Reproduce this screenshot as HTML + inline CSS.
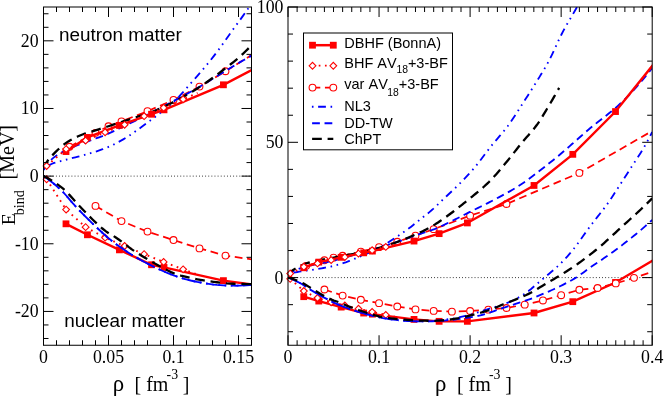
<!DOCTYPE html>
<html><head><meta charset="utf-8"><title>EOS</title><style>html,body{margin:0;padding:0;background:#fff}svg{display:block;will-change:transform}text{white-space:pre;font-kerning:none}</style></head><body>
<svg width="664" height="396" viewBox="0 0 664 396">
<rect width="664" height="396" fill="#fff"/>
<defs><clipPath id="cl"><rect x="43.5" y="7" width="208" height="338.25"/></clipPath><clipPath id="cr"><rect x="288" y="7" width="364.2" height="338.25"/></clipPath></defs>
<path d="M43.5 176.12H251.5" stroke="#000" stroke-width="0.9" stroke-dasharray="0.85 2.26" fill="none"/>
<path d="M288 277.6H652.2" stroke="#000" stroke-width="0.9" stroke-dasharray="0.85 2.26" fill="none"/>
<g>
<path clip-path="url(#cl)" d="M65.99 223.82L87.44 234.78L119.42 249.86L151.53 264.75L164.01 267.45L223.42 280.64L259.3 285.45L299.6 285.45" fill="none" stroke="#ff0000" stroke-width="2.4" />
<rect x="62.59" y="220.42" width="6.8" height="6.8" fill="#ff0000"/>
<rect x="84.04" y="231.38" width="6.8" height="6.8" fill="#ff0000"/>
<rect x="116.02" y="246.46" width="6.8" height="6.8" fill="#ff0000"/>
<rect x="148.13" y="261.35" width="6.8" height="6.8" fill="#ff0000"/>
<rect x="160.61" y="264.05" width="6.8" height="6.8" fill="#ff0000"/>
<rect x="220.02" y="277.24" width="6.8" height="6.8" fill="#ff0000"/>
<path clip-path="url(#cl)" d="M46.62 179.3L66.12 209.61L85.62 227.13L105.12 237.69L124.62 246.01L144.12 254.13L163.62 261.91L183.12 269.35L197.55 274.56" fill="none" stroke="#ff0000" stroke-width="1.9" stroke-dasharray="1.7 4.52" />
<path d="M43.22 179.3L46.62 175.9L50.02 179.3L46.62 182.7z" fill="#fff" stroke="#ff0000" stroke-width="1.1"/>
<path d="M62.72 209.61L66.12 206.21L69.52 209.61L66.12 213.01z" fill="#fff" stroke="#ff0000" stroke-width="1.1"/>
<path d="M82.22 227.13L85.62 223.73L89.02 227.13L85.62 230.53z" fill="#fff" stroke="#ff0000" stroke-width="1.1"/>
<path d="M101.72 237.69L105.12 234.29L108.52 237.69L105.12 241.09z" fill="#fff" stroke="#ff0000" stroke-width="1.1"/>
<path d="M121.22 246.01L124.62 242.61L128.02 246.01L124.62 249.41z" fill="#fff" stroke="#ff0000" stroke-width="1.1"/>
<path d="M140.72 254.13L144.12 250.73L147.52 254.13L144.12 257.53z" fill="#fff" stroke="#ff0000" stroke-width="1.1"/>
<path d="M160.22 261.91L163.62 258.51L167.02 261.91L163.62 265.31z" fill="#fff" stroke="#ff0000" stroke-width="1.1"/>
<path d="M179.72 269.35L183.12 265.95L186.52 269.35L183.12 272.75z" fill="#fff" stroke="#ff0000" stroke-width="1.1"/>
<path clip-path="url(#cl)" d="M95.5 205.89L121.5 221.11L147.5 231.6L173.5 240.05L199.5 248.38L225.5 255.61L251.5 259.33L277.5 261.3" fill="none" stroke="#ff0000" stroke-width="1.75" stroke-dasharray="7.77 4.66" />
<circle cx="95.5" cy="205.89" r="3.4" fill="#fff" stroke="#ff0000" stroke-width="1.1"/>
<circle cx="121.5" cy="221.11" r="3.4" fill="#fff" stroke="#ff0000" stroke-width="1.1"/>
<circle cx="147.5" cy="231.6" r="3.4" fill="#fff" stroke="#ff0000" stroke-width="1.1"/>
<circle cx="173.5" cy="240.05" r="3.4" fill="#fff" stroke="#ff0000" stroke-width="1.1"/>
<circle cx="199.5" cy="248.38" r="3.4" fill="#fff" stroke="#ff0000" stroke-width="1.1"/>
<circle cx="225.5" cy="255.61" r="3.4" fill="#fff" stroke="#ff0000" stroke-width="1.1"/>
<path clip-path="url(#cl)" d="M43.5 176.12L46.77 178.27L50.04 180.66L53.31 183.26L56.58 186.06L59.85 189.02L63.12 192.15L66.39 195.74L69.66 199.62L72.93 203.48L76.2 207.08L79.47 210.51L82.75 213.86L86.02 217.14L89.29 220.37L92.56 223.55L95.83 226.69L99.1 229.77L102.37 232.78L105.64 235.74L108.91 238.59L112.18 241.18L115.45 243.67L118.72 246.06L121.99 248.35L125.26 250.57L128.53 252.7L131.8 254.75L135.07 256.75L138.34 258.67L141.61 260.51L144.88 262.27L148.15 263.93L151.42 265.55L154.69 267.15L157.97 268.72L161.24 270.25L164.51 271.72L167.78 273.13L171.05 274.46L174.32 275.69L177.59 276.82L180.86 277.84L184.13 278.79L187.4 279.67L190.67 280.49L193.94 281.23L197.21 281.91L200.48 282.51L203.75 283.09L207.02 283.65L210.29 284.15L213.56 284.58L216.83 284.91L220.1 285.13L223.37 285.32L226.64 285.48L229.92 285.61L233.19 285.7L236.46 285.72L239.73 285.6L243 285.34L246.27 284.99L249.54 284.6L252.81 284.2L256.08 283.73L259.35 283.18L262.62 282.55L265.89 281.85" fill="none" stroke="#0000ff" stroke-width="1.85" stroke-dasharray="1.6 4.62 7.77 4.66 1.6 4.62" />
<path clip-path="url(#cl)" d="M43.5 176.12L46.77 178.27L50.04 180.66L53.31 183.26L56.58 186.06L59.85 189.02L63.12 192.15L66.39 195.74L69.66 199.62L72.93 203.48L76.2 207.08L79.47 210.51L82.75 213.86L86.02 217.14L89.29 220.37L92.56 223.55L95.83 226.69L99.1 229.77L102.37 232.78L105.64 235.74L108.91 238.59L112.18 241.18L115.45 243.67L118.72 246.06L121.99 248.35L125.26 250.57L128.53 252.7L131.8 254.75L135.07 256.75L138.34 258.67L141.61 260.51L144.88 262.27L148.15 263.93L151.42 265.55L154.69 267.15L157.97 268.72L161.24 270.25L164.51 271.72L167.78 273.13L171.05 274.46L174.32 275.69L177.59 276.82L180.86 277.84L184.13 278.79L187.4 279.67L190.67 280.49L193.94 281.23L197.21 281.91L200.48 282.51L203.75 283.09L207.02 283.65L210.29 284.15L213.56 284.58L216.83 284.91L220.1 285.13L223.37 285.32L226.64 285.48L229.92 285.61L233.19 285.7L236.46 285.72L239.73 285.66L243 285.54L246.27 285.36L249.54 285.16L252.81 284.95L256.08 284.68L259.35 284.35L262.62 283.96L265.89 283.51" fill="none" stroke="#0000ff" stroke-width="1.85" stroke-dasharray="7.77 4.66" />
<path clip-path="url(#cl)" d="M43.5 176.12L46.77 177.66L50.04 179.45L53.31 181.48L56.58 183.7L59.85 186.1L63.12 188.68L66.39 191.71L69.66 195.11L72.93 198.75L76.2 202.46L79.47 206.09L82.75 209.51L86.02 212.89L89.29 216.24L92.56 219.48L95.83 222.58L99.1 225.61L102.37 228.52L105.64 231.14L108.91 233.32L112.18 235.18L115.45 237.19L118.72 239.48L121.99 241.94L125.26 244.45L128.53 246.95L131.8 249.33L135.07 251.54L138.34 253.68L141.61 255.73L144.88 257.69L148.15 259.57L151.42 261.46L154.69 263.37L157.97 265.27L161.24 267.12L164.51 268.89L167.78 270.55L171.05 272.08L174.32 273.45L177.59 274.62L180.86 275.58L184.13 276.44L187.4 277.23L190.67 277.97L193.94 278.65L197.21 279.27L200.48 279.85L203.75 280.39L207.02 280.89L210.29 281.36L213.56 281.8L216.83 282.24L220.1 282.66L223.37 283.04L226.64 283.36L229.92 283.59L233.19 283.73L236.46 283.83L239.73 283.93L243 284L246.27 284.06L249.54 284.09L252.81 284.08L256.08 283.94L259.35 283.65L262.62 283.23L265.89 282.7" fill="none" stroke="#000000" stroke-width="2.3" stroke-dasharray="9.7 5.8" />
<path clip-path="url(#cl)" d="M69.5 146.76L95.5 132.83L108.5 126.27L121.5 121.46L147.5 111.18L173.5 99.95L199.5 86.62L225.5 71.27L251.5 55.03L303.5 21.21" fill="none" stroke="#ff0000" stroke-width="1.75" stroke-dasharray="7.77 4.66" />
<circle cx="69.5" cy="146.76" r="3.4" fill="#fff" stroke="#ff0000" stroke-width="1.1"/>
<circle cx="95.5" cy="132.83" r="3.4" fill="#fff" stroke="#ff0000" stroke-width="1.1"/>
<circle cx="108.5" cy="126.27" r="3.4" fill="#fff" stroke="#ff0000" stroke-width="1.1"/>
<circle cx="121.5" cy="121.46" r="3.4" fill="#fff" stroke="#ff0000" stroke-width="1.1"/>
<circle cx="147.5" cy="111.18" r="3.4" fill="#fff" stroke="#ff0000" stroke-width="1.1"/>
<circle cx="173.5" cy="99.95" r="3.4" fill="#fff" stroke="#ff0000" stroke-width="1.1"/>
<circle cx="199.5" cy="86.62" r="3.4" fill="#fff" stroke="#ff0000" stroke-width="1.1"/>
<circle cx="225.5" cy="71.27" r="3.4" fill="#fff" stroke="#ff0000" stroke-width="1.1"/>
<path clip-path="url(#cl)" d="M43.5 169.7L46.16 167.39L48.81 165.39L51.47 163.98L54.13 162.96L56.79 162.11L59.44 161.38L62.1 160.72L64.76 160.05L67.42 159.34L70.07 158.64L72.73 157.96L75.39 157.3L78.04 156.63L80.7 155.95L83.36 155.23L86.02 154.49L88.67 153.73L91.33 152.96L93.99 152.15L96.64 151.3L99.3 150.41L101.96 149.47L104.62 148.47L107.27 147.41L109.93 146.27L112.59 145.05L115.25 143.75L117.9 142.37L120.56 140.92L123.22 139.41L125.87 137.84L128.53 136.18L131.19 134.4L133.85 132.52L136.5 130.6L139.16 128.68L141.82 126.78L144.47 124.85L147.13 122.88L149.79 120.87L152.45 118.88L155.1 116.89L157.76 114.89L160.42 112.87L163.08 110.8L165.73 108.67L168.39 106.48L171.05 104.19L173.7 101.81L176.36 99.28L179.02 96.57L181.68 93.7L184.33 90.72L186.99 87.67L189.65 84.61L192.31 81.57L194.96 78.56L197.62 75.53L200.28 72.48L202.93 69.38L205.59 66.23L208.25 63.01L210.91 59.72L213.56 56.37L216.22 52.93L218.88 49.39L221.53 45.75L224.19 42.01L226.85 38.23L229.51 34.44L232.16 30.68L234.82 27L237.48 23.38L240.14 19.78L242.79 16.14L245.45 12.41L248.11 8.53L250.76 4.45L253.42 0.15L256.08 -4.29L258.74 -8.82L261.39 -13.36L264.05 -17.86L266.71 -22.27" fill="none" stroke="#0000ff" stroke-width="1.85" stroke-dasharray="1.6 4.62 7.77 4.66 1.6 4.62" />
<path clip-path="url(#cl)" d="M43.5 169.7L46.77 164.78L50.04 160.75L53.31 157.85L56.58 155.49L59.85 153.48L63.12 151.66L66.39 150L69.66 148.49L72.93 147.08L76.2 145.72L79.47 144.42L82.75 143.2L86.02 142.02L89.29 140.85L92.56 139.66L95.83 138.48L99.1 137.31L102.37 136.08L105.64 134.74L108.91 133.32L112.18 131.83L115.45 130.29L118.72 128.74L121.99 127.18L125.26 125.62L128.53 124.04L131.8 122.43L135.07 120.82L138.34 119.18L141.61 117.54L144.88 115.89L148.15 114.23L151.42 112.57L154.69 110.89L157.97 109.2L161.24 107.5L164.51 105.79L167.78 104.07L171.05 102.34L174.32 100.6L177.59 98.86L180.86 97.11L184.13 95.35L187.4 93.59L190.67 91.8L193.94 89.98L197.21 88.14L200.48 86.26L203.75 84.32L207.02 82.35L210.29 80.33L213.56 78.3L216.83 76.26L220.1 74.23L223.37 72.22L226.64 70.24L229.92 68.26L233.19 66.29L236.46 64.32L239.73 62.38L243 60.47L246.27 58.64L249.54 56.88L252.81 54.85L256.08 52.54L259.35 50.02L262.62 47.36L265.89 44.59" fill="none" stroke="#0000ff" stroke-width="1.85" stroke-dasharray="7.77 4.66" />
<path clip-path="url(#cl)" d="M43.5 168.01L45.93 163.28L48.37 159.78L50.8 156.9L53.24 154.35L55.67 151.92L58.11 149.55L60.54 147.29L62.98 145.2L65.41 143.34L67.85 141.73L70.28 140.28L72.72 138.93L75.15 137.68L77.59 136.54L80.02 135.47L82.46 134.49L84.89 133.59L87.33 132.78L89.76 132.02L92.2 131.3L94.63 130.57L97.07 129.82L99.5 129.05L101.94 128.29L104.37 127.52L106.81 126.76L109.24 125.98L111.68 125.19L114.11 124.39L116.55 123.6L118.98 122.79L121.41 121.99L123.85 121.19L126.28 120.38L128.72 119.59L131.15 118.8L133.59 118.02L136.02 117.24L138.46 116.46L140.89 115.68L143.33 114.89L145.76 114.11L148.2 113.32L150.63 112.48L153.07 111.55L155.5 110.57L157.94 109.53L160.37 108.45L162.81 107.32L165.24 106.16L167.68 104.98L170.11 103.76L172.55 102.53L174.98 101.29L177.42 100.01L179.85 98.7L182.29 97.36L184.72 95.99L187.16 94.59L189.59 93.16L192.03 91.7L194.46 90.21L196.9 88.69L199.33 87.14L201.76 85.55L204.2 83.92L206.63 82.24L209.07 80.53L211.5 78.78L213.94 77L216.37 75.19L218.81 73.36L221.24 71.51L223.68 69.64L226.11 67.76L228.55 65.88L230.98 63.98L233.42 62.06L235.85 60.09L238.29 58.05L240.72 55.89L243.16 53.64L245.59 51.29L248.03 48.85L250.46 46.32L252.9 43.72L255.33 41.02L257.77 38.25L260.2 35.39L262.64 32.48L265.07 29.51" fill="none" stroke="#000000" stroke-width="2.3" stroke-dasharray="9.7 5.8" />
<path clip-path="url(#cl)" d="M65.99 151.57L87.44 137.43L119.42 125.39L151.53 114.23L164.01 109.83L223.42 84.8L259.3 66.19L299.6 39.47" fill="none" stroke="#ff0000" stroke-width="2.4" />
<rect x="62.59" y="148.17" width="6.8" height="6.8" fill="#ff0000"/>
<rect x="84.04" y="134.03" width="6.8" height="6.8" fill="#ff0000"/>
<rect x="116.02" y="121.99" width="6.8" height="6.8" fill="#ff0000"/>
<rect x="148.13" y="110.83" width="6.8" height="6.8" fill="#ff0000"/>
<rect x="160.61" y="106.43" width="6.8" height="6.8" fill="#ff0000"/>
<rect x="220.02" y="81.4" width="6.8" height="6.8" fill="#ff0000"/>
<path clip-path="url(#cl)" d="M46.62 165.98L66.12 149.07L85.62 140.61L105.12 132.36L124.62 124.71L144.12 116.19L163.62 107.8L183.12 99.34L197.55 92.92" fill="none" stroke="#ff0000" stroke-width="1.9" stroke-dasharray="1.7 4.52" />
<path d="M43.22 165.98L46.62 162.58L50.02 165.98L46.62 169.38z" fill="#fff" stroke="#ff0000" stroke-width="1.1"/>
<path d="M62.72 149.07L66.12 145.67L69.52 149.07L66.12 152.47z" fill="#fff" stroke="#ff0000" stroke-width="1.1"/>
<path d="M82.22 140.61L85.62 137.21L89.02 140.61L85.62 144.01z" fill="#fff" stroke="#ff0000" stroke-width="1.1"/>
<path d="M101.72 132.36L105.12 128.96L108.52 132.36L105.12 135.76z" fill="#fff" stroke="#ff0000" stroke-width="1.1"/>
<path d="M121.22 124.71L124.62 121.31L128.02 124.71L124.62 128.11z" fill="#fff" stroke="#ff0000" stroke-width="1.1"/>
<path d="M140.72 116.19L144.12 112.79L147.52 116.19L144.12 119.59z" fill="#fff" stroke="#ff0000" stroke-width="1.1"/>
<path d="M160.22 107.8L163.62 104.4L167.02 107.8L163.62 111.2z" fill="#fff" stroke="#ff0000" stroke-width="1.1"/>
<path d="M179.72 99.34L183.12 95.94L186.52 99.34L183.12 102.74z" fill="#fff" stroke="#ff0000" stroke-width="1.1"/>
</g>
<g>
<path clip-path="url(#cr)" d="M303.75 296.68L318.77 301.06L341.17 307.1L363.66 313.05L372.4 314.13L414.01 319.41L439.14 321.33L467.37 321.33L534.02 312.99L572.8 301.68L615.51 282.47L662.22 255" fill="none" stroke="#ff0000" stroke-width="2.4" />
<rect x="300.35" y="293.28" width="6.8" height="6.8" fill="#ff0000"/>
<rect x="315.37" y="297.66" width="6.8" height="6.8" fill="#ff0000"/>
<rect x="337.77" y="303.7" width="6.8" height="6.8" fill="#ff0000"/>
<rect x="360.26" y="309.65" width="6.8" height="6.8" fill="#ff0000"/>
<rect x="369" y="310.73" width="6.8" height="6.8" fill="#ff0000"/>
<rect x="410.61" y="316.01" width="6.8" height="6.8" fill="#ff0000"/>
<rect x="435.74" y="317.93" width="6.8" height="6.8" fill="#ff0000"/>
<rect x="463.97" y="317.93" width="6.8" height="6.8" fill="#ff0000"/>
<rect x="530.62" y="309.59" width="6.8" height="6.8" fill="#ff0000"/>
<rect x="569.4" y="298.28" width="6.8" height="6.8" fill="#ff0000"/>
<rect x="612.11" y="279.07" width="6.8" height="6.8" fill="#ff0000"/>
<path clip-path="url(#cr)" d="M290.19 278.87L303.84 290.99L317.5 298L331.16 302.22L344.82 305.55L358.47 308.8L372.13 311.91L385.79 314.89L395.89 316.97" fill="none" stroke="#ff0000" stroke-width="1.9" stroke-dasharray="1.7 4.52" />
<path d="M286.79 278.87L290.19 275.47L293.59 278.87L290.19 282.27z" fill="#fff" stroke="#ff0000" stroke-width="1.1"/>
<path d="M300.44 290.99L303.84 287.59L307.24 290.99L303.84 294.39z" fill="#fff" stroke="#ff0000" stroke-width="1.1"/>
<path d="M314.1 298L317.5 294.6L320.9 298L317.5 301.4z" fill="#fff" stroke="#ff0000" stroke-width="1.1"/>
<path d="M327.76 302.22L331.16 298.82L334.56 302.22L331.16 305.62z" fill="#fff" stroke="#ff0000" stroke-width="1.1"/>
<path d="M341.42 305.55L344.82 302.15L348.22 305.55L344.82 308.95z" fill="#fff" stroke="#ff0000" stroke-width="1.1"/>
<path d="M355.07 308.8L358.47 305.4L361.87 308.8L358.47 312.2z" fill="#fff" stroke="#ff0000" stroke-width="1.1"/>
<path d="M368.73 311.91L372.13 308.51L375.53 311.91L372.13 315.31z" fill="#fff" stroke="#ff0000" stroke-width="1.1"/>
<path d="M382.39 314.89L385.79 311.49L389.19 314.89L385.79 318.29z" fill="#fff" stroke="#ff0000" stroke-width="1.1"/>
<path clip-path="url(#cr)" d="M324.42 289.51L342.63 295.59L360.84 299.79L379.05 303.17L397.26 306.5L415.47 309.4L433.68 310.88L451.89 311.67L470.1 310.99L488.31 309.67L506.52 307.99L524.73 304.66L542.94 300.47L561.15 295.19L579.36 289.78L597.57 288.02L615.78 283.42L633.99 277.87L652.2 271.78" fill="none" stroke="#ff0000" stroke-width="1.75" stroke-dasharray="7.77 4.66" />
<circle cx="324.42" cy="289.51" r="3.4" fill="#fff" stroke="#ff0000" stroke-width="1.1"/>
<circle cx="342.63" cy="295.59" r="3.4" fill="#fff" stroke="#ff0000" stroke-width="1.1"/>
<circle cx="360.84" cy="299.79" r="3.4" fill="#fff" stroke="#ff0000" stroke-width="1.1"/>
<circle cx="379.05" cy="303.17" r="3.4" fill="#fff" stroke="#ff0000" stroke-width="1.1"/>
<circle cx="397.26" cy="306.5" r="3.4" fill="#fff" stroke="#ff0000" stroke-width="1.1"/>
<circle cx="415.47" cy="309.4" r="3.4" fill="#fff" stroke="#ff0000" stroke-width="1.1"/>
<circle cx="433.68" cy="310.88" r="3.4" fill="#fff" stroke="#ff0000" stroke-width="1.1"/>
<circle cx="451.89" cy="311.67" r="3.4" fill="#fff" stroke="#ff0000" stroke-width="1.1"/>
<circle cx="470.1" cy="310.99" r="3.4" fill="#fff" stroke="#ff0000" stroke-width="1.1"/>
<circle cx="488.31" cy="309.67" r="3.4" fill="#fff" stroke="#ff0000" stroke-width="1.1"/>
<circle cx="506.52" cy="307.99" r="3.4" fill="#fff" stroke="#ff0000" stroke-width="1.1"/>
<circle cx="524.73" cy="304.66" r="3.4" fill="#fff" stroke="#ff0000" stroke-width="1.1"/>
<circle cx="542.94" cy="300.47" r="3.4" fill="#fff" stroke="#ff0000" stroke-width="1.1"/>
<circle cx="561.15" cy="295.19" r="3.4" fill="#fff" stroke="#ff0000" stroke-width="1.1"/>
<circle cx="579.36" cy="289.78" r="3.4" fill="#fff" stroke="#ff0000" stroke-width="1.1"/>
<circle cx="597.57" cy="288.02" r="3.4" fill="#fff" stroke="#ff0000" stroke-width="1.1"/>
<circle cx="615.78" cy="283.42" r="3.4" fill="#fff" stroke="#ff0000" stroke-width="1.1"/>
<circle cx="633.99" cy="277.87" r="3.4" fill="#fff" stroke="#ff0000" stroke-width="1.1"/>
<path clip-path="url(#cr)" d="M288 277.6L290.29 278.46L292.58 279.41L294.87 280.45L297.16 281.57L299.45 282.76L301.74 284.01L304.03 285.45L306.32 287L308.62 288.54L310.91 289.98L313.2 291.35L315.49 292.69L317.78 294L320.07 295.3L322.36 296.57L324.65 297.83L326.94 299.06L329.23 300.26L331.52 301.45L333.81 302.58L336.1 303.62L338.39 304.62L340.68 305.57L342.97 306.49L345.26 307.38L347.55 308.23L349.85 309.05L352.14 309.85L354.43 310.62L356.72 311.35L359.01 312.06L361.3 312.72L363.59 313.37L365.88 314.01L368.17 314.64L370.46 315.25L372.75 315.84L375.04 316.4L377.33 316.93L379.62 317.43L381.91 317.88L384.2 318.29L386.49 318.67L388.78 319.02L391.08 319.34L393.37 319.64L395.66 319.91L397.95 320.15L400.24 320.39L402.53 320.61L404.82 320.81L407.11 320.98L409.4 321.12L411.69 321.2L413.98 321.28L416.27 321.34L418.56 321.4L420.85 321.43L423.14 321.44L425.43 321.39L427.72 321.29L430.02 321.15L432.31 320.99L434.6 320.83L436.89 320.64L439.18 320.42L441.47 320.17L443.76 319.89L446.05 319.59L448.34 319.27L450.63 318.92L452.92 318.57L455.21 318.16L457.5 317.71L459.79 317.21L462.08 316.69L464.37 316.13L466.66 315.56L468.95 314.97L471.25 314.37L473.54 313.72L475.83 313.03L478.12 312.32L480.41 311.58L482.7 310.82L484.99 310.07L487.28 309.32L489.57 308.59L491.86 307.89L494.15 307.2L496.44 306.51L498.73 305.82L501.02 305.1L503.31 304.35L505.6 303.55L507.89 302.69L510.18 301.75L512.48 300.72L514.77 299.59L517.06 298.36L519.35 297.05L521.64 295.67L523.93 294.22L526.22 292.69L528.51 291.01L530.8 289.2L533.09 287.29L535.38 285.32L537.67 283.31L539.96 281.31L542.25 279.34L544.54 277.42L546.83 275.54L549.12 273.67L551.42 271.77L553.71 269.84L556 267.85L558.29 265.76L560.58 263.57L562.87 261.25L565.16 258.81L567.45 256.27L569.74 253.63L572.03 250.91L574.32 248.05L576.61 245.05L578.9 241.95L581.19 238.78L583.48 235.57L585.77 232.36L588.06 229.17L590.35 226.05L592.65 223.02L594.94 220.07L597.23 217.17L599.52 214.28L601.81 211.37L604.1 208.4L606.39 205.33L608.68 202.13L610.97 198.74L613.26 195.22L615.55 191.67L617.84 188.14L620.13 184.61L622.42 181.06L624.71 177.5L627 173.93L629.29 170.36L631.58 166.81L633.88 163.27L636.17 159.81L638.46 156.35L640.75 152.78L643.04 148.99L645.33 145L647.62 140.84L649.91 136.51L652.2 132.02" fill="none" stroke="#0000ff" stroke-width="1.85" stroke-dasharray="1.6 4.62 7.77 4.66 1.6 4.62" />
<path clip-path="url(#cr)" d="M288 277.6L290.29 278.46L292.58 279.41L294.87 280.45L297.16 281.57L299.45 282.76L301.74 284.01L304.03 285.45L306.32 287L308.62 288.54L310.91 289.98L313.2 291.35L315.49 292.69L317.78 294L320.07 295.3L322.36 296.57L324.65 297.83L326.94 299.06L329.23 300.26L331.52 301.45L333.81 302.58L336.1 303.62L338.39 304.62L340.68 305.57L342.97 306.49L345.26 307.38L347.55 308.23L349.85 309.05L352.14 309.85L354.43 310.62L356.72 311.35L359.01 312.06L361.3 312.72L363.59 313.37L365.88 314.01L368.17 314.64L370.46 315.25L372.75 315.84L375.04 316.4L377.33 316.93L379.62 317.43L381.91 317.88L384.2 318.29L386.49 318.67L388.78 319.02L391.08 319.34L393.37 319.64L395.66 319.91L397.95 320.15L400.24 320.39L402.53 320.61L404.82 320.81L407.11 320.98L409.4 321.12L411.69 321.2L413.98 321.28L416.27 321.34L418.56 321.4L420.85 321.43L423.14 321.44L425.43 321.41L427.72 321.36L430.02 321.3L432.31 321.22L434.6 321.13L436.89 321.02L439.18 320.89L441.47 320.73L443.76 320.56L446.05 320.36L448.34 320.15L450.63 319.94L452.92 319.71L455.21 319.46L457.5 319.2L459.79 318.91L462.08 318.59L464.37 318.26L466.66 317.91L468.95 317.53L471.25 317.13L473.54 316.71L475.83 316.27L478.12 315.81L480.41 315.32L482.7 314.76L484.99 314.11L487.28 313.4L489.57 312.64L491.86 311.85L494.15 311.03L496.44 310.2L498.73 309.38L501.02 308.59L503.31 307.83L505.6 307.09L507.89 306.36L510.18 305.64L512.48 304.93L514.77 304.21L517.06 303.48L519.35 302.74L521.64 301.99L523.93 301.22L526.22 300.43L528.51 299.61L530.8 298.76L533.09 297.9L535.38 297.01L537.67 296.1L539.96 295.17L542.25 294.22L544.54 293.26L546.83 292.27L549.12 291.28L551.42 290.26L553.71 289.23L556 288.16L558.29 287.08L560.58 285.97L562.87 284.83L565.16 283.67L567.45 282.48L569.74 281.26L572.03 280L574.32 278.65L576.61 277.21L578.9 275.66L581.19 274.04L583.48 272.38L585.77 270.7L588.06 269.04L590.35 267.43L592.65 265.85L594.94 264.29L597.23 262.74L599.52 261.19L601.81 259.65L604.1 258.1L606.39 256.54L608.68 254.97L610.97 253.37L613.26 251.75L615.55 250.09L617.84 248.4L620.13 246.65L622.42 244.86L624.71 243.05L627 241.23L629.29 239.43L631.58 237.64L633.88 235.83L636.17 233.97L638.46 232.06L640.75 230.13L643.04 228.16L645.33 226.16L647.62 224.13L649.91 222.07L652.2 219.96" fill="none" stroke="#0000ff" stroke-width="1.85" stroke-dasharray="7.77 4.66" />
<path clip-path="url(#cr)" d="M288 277.6L290.29 278.21L292.58 278.93L294.87 279.74L297.16 280.63L299.45 281.59L301.74 282.62L304.03 283.83L306.32 285.19L308.62 286.65L310.91 288.13L313.2 289.59L315.49 290.96L317.78 292.31L320.07 293.64L322.36 294.94L324.65 296.18L326.94 297.4L329.23 298.56L331.52 299.61L333.81 300.48L336.1 301.22L338.39 302.03L340.68 302.94L342.97 303.92L345.26 304.93L347.55 305.93L349.85 306.88L352.14 307.77L354.43 308.62L356.72 309.44L359.01 310.23L361.3 310.98L363.59 311.74L365.88 312.5L368.17 313.26L370.46 314L372.75 314.7L375.04 315.37L377.33 315.98L379.62 316.53L381.91 317L384.2 317.38L386.49 317.72L388.78 318.04L391.08 318.34L393.37 318.61L395.66 318.86L397.95 319.09L400.24 319.31L402.53 319.51L404.82 319.69L407.11 319.87L409.4 320.04L411.69 320.21L413.98 320.36L416.27 320.49L418.56 320.59L420.85 320.64L423.14 320.68L425.43 320.72L427.72 320.75L430.02 320.77L432.31 320.79L434.6 320.78L436.89 320.72L439.18 320.61L441.47 320.44L443.76 320.23L446.05 319.97L448.34 319.69L450.63 319.38L452.92 319.04L455.21 318.69L457.5 318.33L459.79 317.97L462.08 317.55L464.37 317.02L466.66 316.42L468.95 315.79L471.25 315.15L473.54 314.54L475.83 313.94L478.12 313.35L480.41 312.75L482.7 312.12L484.99 311.46L487.28 310.75L489.57 309.98L491.86 309.11L494.15 308.18L496.44 307.21L498.73 306.22L501.02 305.24L503.31 304.29L505.6 303.37L507.89 302.48L510.18 301.6L512.48 300.72L514.77 299.84L517.06 298.94L519.35 298.01L521.64 297.05L523.93 296.05L526.22 294.99L528.51 293.86L530.8 292.65L533.09 291.39L535.38 290.07L537.67 288.71L539.96 287.33L542.25 285.94L544.54 284.55L546.83 283.18L549.12 281.84L551.42 280.5L553.71 279.16L556 277.81L558.29 276.45L560.58 275.07L562.87 273.66L565.16 272.23L567.45 270.76L569.74 269.28L572.03 267.77L574.32 266.23L576.61 264.65L578.9 263.04L581.19 261.38L583.48 259.69L585.77 257.97L588.06 256.21L590.35 254.41L592.65 252.59L594.94 250.74L597.23 248.86L599.52 246.95L601.81 245.01L604.1 243.01L606.39 240.96L608.68 238.89L610.97 236.78L613.26 234.67L615.55 232.54L617.84 230.42L620.13 228.31L622.42 226.23L624.71 224.16L627 222.09L629.29 220.02L631.58 217.95L633.88 215.87L636.17 213.76L638.46 211.63L640.75 209.48L643.04 207.29L645.33 205.08L647.62 202.84L649.91 200.59L652.2 198.31" fill="none" stroke="#000000" stroke-width="2.3" stroke-dasharray="9.7 5.8" />
<path clip-path="url(#cr)" d="M306.21 265.86L324.42 260.28L333.52 257.66L342.63 255.74L360.84 251.62L379.05 247.13L397.26 241.8L415.47 235.66L433.68 229.16L470.1 215.63L506.52 204L579.36 172.88L652.2 130.93" fill="none" stroke="#ff0000" stroke-width="1.75" stroke-dasharray="7.77 4.66" />
<circle cx="306.21" cy="265.86" r="3.4" fill="#fff" stroke="#ff0000" stroke-width="1.1"/>
<circle cx="324.42" cy="260.28" r="3.4" fill="#fff" stroke="#ff0000" stroke-width="1.1"/>
<circle cx="333.52" cy="257.66" r="3.4" fill="#fff" stroke="#ff0000" stroke-width="1.1"/>
<circle cx="342.63" cy="255.74" r="3.4" fill="#fff" stroke="#ff0000" stroke-width="1.1"/>
<circle cx="360.84" cy="251.62" r="3.4" fill="#fff" stroke="#ff0000" stroke-width="1.1"/>
<circle cx="379.05" cy="247.13" r="3.4" fill="#fff" stroke="#ff0000" stroke-width="1.1"/>
<circle cx="397.26" cy="241.8" r="3.4" fill="#fff" stroke="#ff0000" stroke-width="1.1"/>
<circle cx="415.47" cy="235.66" r="3.4" fill="#fff" stroke="#ff0000" stroke-width="1.1"/>
<circle cx="433.68" cy="229.16" r="3.4" fill="#fff" stroke="#ff0000" stroke-width="1.1"/>
<circle cx="470.1" cy="215.63" r="3.4" fill="#fff" stroke="#ff0000" stroke-width="1.1"/>
<circle cx="506.52" cy="204" r="3.4" fill="#fff" stroke="#ff0000" stroke-width="1.1"/>
<circle cx="579.36" cy="172.88" r="3.4" fill="#fff" stroke="#ff0000" stroke-width="1.1"/>
<path clip-path="url(#cr)" d="M288 275.03L289.86 274.11L291.72 273.3L293.58 272.74L295.44 272.33L297.31 271.99L299.17 271.7L301.03 271.44L302.89 271.17L304.75 270.89L306.61 270.6L308.47 270.33L310.33 270.07L312.19 269.8L314.06 269.53L315.92 269.24L317.78 268.95L319.64 268.64L321.5 268.33L323.36 268.01L325.22 267.67L327.08 267.31L328.94 266.94L330.8 266.54L332.67 266.11L334.53 265.66L336.39 265.17L338.25 264.65L340.11 264.1L341.97 263.52L343.83 262.91L345.69 262.29L347.55 261.62L349.42 260.91L351.28 260.16L353.14 259.39L355 258.62L356.86 257.86L358.72 257.09L360.58 256.3L362.44 255.5L364.3 254.7L366.17 253.91L368.03 253.11L369.89 252.3L371.75 251.47L373.61 250.62L375.47 249.74L377.33 248.83L379.19 247.87L381.05 246.86L382.92 245.78L384.78 244.63L386.64 243.44L388.5 242.22L390.36 240.99L392.22 239.78L394.08 238.57L395.94 237.36L397.8 236.14L399.67 234.9L401.53 233.64L403.39 232.35L405.25 231.04L407.11 229.7L408.97 228.32L410.83 226.91L412.69 225.45L414.55 223.96L416.41 222.44L418.28 220.93L420.14 219.42L422 217.95L423.86 216.5L425.72 215.06L427.58 213.61L429.44 212.11L431.3 210.56L433.16 208.93L435.03 207.21L436.89 205.43L438.75 203.62L440.61 201.81L442.47 200.01L444.33 198.24L446.19 196.5L448.05 194.77L449.91 193.04L451.78 191.3L453.64 189.55L455.5 187.77L457.36 185.96L459.22 184.12L461.08 182.23L462.94 180.31L464.8 178.37L466.66 176.4L468.53 174.39L470.39 172.34L472.25 170.25L474.11 168.1L475.97 165.89L477.83 163.58L479.69 161.2L481.55 158.76L483.41 156.28L485.27 153.8L487.14 151.33L489 148.89L490.86 146.51L492.72 144.2L494.58 141.97L496.44 139.78L498.3 137.62L500.16 135.46L502.02 133.27L503.89 131.02L505.75 128.71L507.61 126.29L509.47 123.75L511.33 121.09L513.19 118.34L515.05 115.52L516.91 112.64L518.77 109.72L520.64 106.78L522.5 103.85L524.36 100.94L526.22 98.05L528.08 95.15L529.94 92.24L531.8 89.32L533.66 86.38L535.52 83.41L537.39 80.41L539.25 77.38L541.11 74.32L542.97 71.26L544.83 68.14L546.69 64.91L548.55 61.51L550.41 57.87L552.27 54.03L554.14 50.05L556 46.02L557.86 41.99L559.72 38.04L561.58 34.23L563.44 30.64L565.3 27.24L567.16 23.97L569.02 20.77L570.88 17.63L572.75 14.48L574.61 11.3L576.47 8.04L578.33 4.72L580.19 1.35L582.05 -2.04L583.91 -5.45" fill="none" stroke="#0000ff" stroke-width="1.85" stroke-dasharray="1.6 4.62 7.77 4.66 1.6 4.62" />
<path clip-path="url(#cr)" d="M288 275.03L290.29 273.06L292.58 271.45L294.87 270.29L297.16 269.35L299.45 268.54L301.74 267.81L304.03 267.15L306.32 266.55L308.62 265.98L310.91 265.44L313.2 264.92L315.49 264.43L317.78 263.96L320.07 263.49L322.36 263.01L324.65 262.54L326.94 262.07L329.23 261.58L331.52 261.05L333.81 260.48L336.1 259.88L338.39 259.27L340.68 258.65L342.97 258.02L345.26 257.4L347.55 256.76L349.85 256.12L352.14 255.48L354.43 254.82L356.72 254.17L359.01 253.51L361.3 252.84L363.59 252.18L365.88 251.51L368.17 250.83L370.46 250.15L372.75 249.47L375.04 248.78L377.33 248.09L379.62 247.39L381.91 246.69L384.2 245.99L386.49 245.29L388.78 244.58L391.08 243.87L393.37 243.14L395.66 242.41L397.95 241.65L400.24 240.88L402.53 240.09L404.82 239.28L407.11 238.47L409.4 237.66L411.69 236.84L413.98 236.04L416.27 235.25L418.56 234.45L420.85 233.66L423.14 232.88L425.43 232.1L427.72 231.34L430.02 230.61L432.31 229.9L434.6 229.09L436.89 228.17L439.18 227.16L441.47 226.09L443.76 224.99L446.05 223.86L448.34 222.74L450.63 221.64L452.92 220.52L455.21 219.39L457.5 218.24L459.79 217.08L462.08 215.91L464.37 214.74L466.66 213.57L468.95 212.4L471.25 211.24L473.54 210.1L475.83 208.97L478.12 207.85L480.41 206.73L482.7 205.62L484.99 204.49L487.28 203.34L489.57 202.16L491.86 200.96L494.15 199.77L496.44 198.57L498.73 197.36L501.02 196.14L503.31 194.91L505.6 193.66L507.89 192.39L510.18 191.09L512.48 189.76L514.77 188.4L517.06 187L519.35 185.56L521.64 184.07L523.93 182.51L526.22 180.89L528.51 179.21L530.8 177.5L533.09 175.76L535.38 174L537.67 172.23L539.96 170.46L542.25 168.7L544.54 166.93L546.83 165.14L549.12 163.33L551.42 161.5L553.71 159.66L556 157.79L558.29 155.91L560.58 154L562.87 152.05L565.16 150.08L567.45 148.09L569.74 146.08L572.03 144.07L574.32 142.04L576.61 140.01L578.9 137.99L581.19 135.97L583.48 133.97L585.77 131.98L588.06 130.01L590.35 128.08L592.65 126.18L594.94 124.32L597.23 122.51L599.52 120.73L601.81 118.96L604.1 117.19L606.39 115.4L608.68 113.59L610.97 111.75L613.26 109.85L615.55 107.88L617.84 105.85L620.13 103.75L622.42 101.6L624.71 99.38L627 97.1L629.29 94.76L631.58 92.36L633.88 89.89L636.17 87.35L638.46 84.76L640.75 82.1L643.04 79.39L645.33 76.6L647.62 73.76L649.91 70.85L652.2 67.88" fill="none" stroke="#0000ff" stroke-width="1.85" stroke-dasharray="7.77 4.66" />
<path clip-path="url(#cr)" d="M288 274.35L289.71 272.46L291.41 271.06L293.12 269.91L294.82 268.89L296.53 267.92L298.23 266.97L299.94 266.07L301.64 265.23L303.35 264.48L305.05 263.84L306.76 263.26L308.46 262.72L310.17 262.22L311.87 261.76L313.58 261.34L315.29 260.94L316.99 260.59L318.7 260.26L320.4 259.96L322.11 259.67L323.81 259.38L325.52 259.08L327.22 258.77L328.93 258.47L330.63 258.16L332.34 257.85L334.04 257.54L335.75 257.23L337.45 256.91L339.16 256.59L340.87 256.27L342.57 255.95L344.28 255.62L345.98 255.3L347.69 254.99L349.39 254.67L351.1 254.36L352.8 254.05L354.51 253.74L356.21 253.42L357.92 253.11L359.62 252.79L361.33 252.48L363.03 252.14L364.74 251.77L366.45 251.38L368.15 250.96L369.86 250.53L371.56 250.08L373.27 249.62L374.97 249.14L376.68 248.66L378.38 248.16L380.09 247.66L381.79 247.15L383.5 246.63L385.2 246.09L386.91 245.55L388.61 244.99L390.32 244.41L392.02 243.83L393.73 243.23L395.44 242.63L397.14 242.01L398.85 241.37L400.55 240.72L402.26 240.05L403.96 239.36L405.67 238.66L407.37 237.95L409.08 237.23L410.78 236.49L412.49 235.75L414.19 235.01L415.9 234.26L417.6 233.5L419.31 232.74L421.02 231.98L422.72 231.19L424.43 230.37L426.13 229.51L427.84 228.61L429.54 227.66L431.25 226.69L432.95 225.68L434.66 224.64L436.36 223.56L438.07 222.45L439.77 221.31L441.48 220.14L443.18 218.95L444.89 217.75L446.6 216.53L448.3 215.29L450.01 214.04L451.71 212.77L453.42 211.48L455.12 210.17L456.83 208.85L458.53 207.52L460.24 206.17L461.94 204.82L463.65 203.45L465.35 202.08L467.06 200.69L468.76 199.3L470.47 197.91L472.18 196.52L473.88 195.14L475.59 193.75L477.29 192.35L479 190.93L480.7 189.49L482.41 188.02L484.11 186.51L485.82 184.96L487.52 183.37L489.23 181.71L490.93 179.98L492.64 178.18L494.34 176.31L496.05 174.39L497.76 172.43L499.46 170.43L501.17 168.42L502.87 166.39L504.58 164.36L506.28 162.32L507.99 160.23L509.69 158.11L511.4 155.96L513.1 153.79L514.81 151.62L516.51 149.45L518.22 147.29L519.92 145.16L521.63 143.05L523.34 141.01L525.04 139.03L526.75 137.09L528.45 135.15L530.16 133.2L531.86 131.22L533.57 129.17L535.27 127.04L536.98 124.8L538.68 122.41L540.39 119.82L542.09 117.06L543.8 114.21L545.5 111.33L547.21 108.48L548.91 105.62L550.62 102.74L552.33 99.83L554.03 96.89L555.74 93.93L557.44 90.93L559.15 87.91" fill="none" stroke="#000000" stroke-width="2.3" stroke-dasharray="9.7 5.8" />
<path clip-path="url(#cr)" d="M303.75 267.78L318.77 262.12L341.17 257.31L363.66 252.84L372.4 251.08L414.01 241.07L439.14 233.63L467.37 222.94L534.02 185.46L572.8 154.34L615.51 111.56L662.22 53.54" fill="none" stroke="#ff0000" stroke-width="2.4" />
<rect x="300.35" y="264.38" width="6.8" height="6.8" fill="#ff0000"/>
<rect x="315.37" y="258.72" width="6.8" height="6.8" fill="#ff0000"/>
<rect x="337.77" y="253.91" width="6.8" height="6.8" fill="#ff0000"/>
<rect x="360.26" y="249.44" width="6.8" height="6.8" fill="#ff0000"/>
<rect x="369" y="247.68" width="6.8" height="6.8" fill="#ff0000"/>
<rect x="410.61" y="237.67" width="6.8" height="6.8" fill="#ff0000"/>
<rect x="435.74" y="230.23" width="6.8" height="6.8" fill="#ff0000"/>
<rect x="463.97" y="219.54" width="6.8" height="6.8" fill="#ff0000"/>
<rect x="530.62" y="182.06" width="6.8" height="6.8" fill="#ff0000"/>
<rect x="569.4" y="150.94" width="6.8" height="6.8" fill="#ff0000"/>
<rect x="612.11" y="108.16" width="6.8" height="6.8" fill="#ff0000"/>
<path clip-path="url(#cr)" d="M290.19 273.54L303.84 266.78L317.5 263.39L331.16 260.09L344.82 257.03L358.47 253.62L372.13 250.27L385.79 246.89L395.89 244.32" fill="none" stroke="#ff0000" stroke-width="1.9" stroke-dasharray="1.7 4.52" />
<path d="M286.79 273.54L290.19 270.14L293.59 273.54L290.19 276.94z" fill="#fff" stroke="#ff0000" stroke-width="1.1"/>
<path d="M300.44 266.78L303.84 263.38L307.24 266.78L303.84 270.18z" fill="#fff" stroke="#ff0000" stroke-width="1.1"/>
<path d="M314.1 263.39L317.5 259.99L320.9 263.39L317.5 266.79z" fill="#fff" stroke="#ff0000" stroke-width="1.1"/>
<path d="M327.76 260.09L331.16 256.69L334.56 260.09L331.16 263.49z" fill="#fff" stroke="#ff0000" stroke-width="1.1"/>
<path d="M341.42 257.03L344.82 253.63L348.22 257.03L344.82 260.43z" fill="#fff" stroke="#ff0000" stroke-width="1.1"/>
<path d="M355.07 253.62L358.47 250.22L361.87 253.62L358.47 257.02z" fill="#fff" stroke="#ff0000" stroke-width="1.1"/>
<path d="M368.73 250.27L372.13 246.87L375.53 250.27L372.13 253.67z" fill="#fff" stroke="#ff0000" stroke-width="1.1"/>
<path d="M382.39 246.89L385.79 243.49L389.19 246.89L385.79 250.29z" fill="#fff" stroke="#ff0000" stroke-width="1.1"/>
</g>
<path d="M43.5 345.25v-10M43.5 7v10M56.5 345.25v-5M56.5 7v5M69.5 345.25v-5M69.5 7v5M82.5 345.25v-5M82.5 7v5M95.5 345.25v-5M95.5 7v5M108.5 345.25v-10M108.5 7v10M121.5 345.25v-5M121.5 7v5M134.5 345.25v-5M134.5 7v5M147.5 345.25v-5M147.5 7v5M160.5 345.25v-5M160.5 7v5M173.5 345.25v-10M173.5 7v10M186.5 345.25v-5M186.5 7v5M199.5 345.25v-5M199.5 7v5M212.5 345.25v-5M212.5 7v5M225.5 345.25v-5M225.5 7v5M238.5 345.25v-10M238.5 7v10M251.5 345.25v-5M251.5 7v5M43.5 338.49h5M251.5 338.49h-5M43.5 324.95h5M251.5 324.95h-5M43.5 311.43h10M251.5 311.43h-10M43.5 297.89h5M251.5 297.89h-5M43.5 284.37h5M251.5 284.37h-5M43.5 270.83h5M251.5 270.83h-5M43.5 257.31h5M251.5 257.31h-5M43.5 243.78h10M251.5 243.78h-10M43.5 230.25h5M251.5 230.25h-5M43.5 216.72h5M251.5 216.72h-5M43.5 203.19h5M251.5 203.19h-5M43.5 189.66h5M251.5 189.66h-5M43.5 176.12h10M251.5 176.12h-10M43.5 162.59h5M251.5 162.59h-5M43.5 149.07h5M251.5 149.07h-5M43.5 135.53h5M251.5 135.53h-5M43.5 122h5M251.5 122h-5M43.5 108.48h10M251.5 108.48h-10M43.5 94.94h5M251.5 94.94h-5M43.5 81.41h5M251.5 81.41h-5M43.5 67.88h5M251.5 67.88h-5M43.5 54.36h5M251.5 54.36h-5M43.5 40.82h10M251.5 40.82h-10M43.5 27.3h5M251.5 27.3h-5M43.5 13.76h5M251.5 13.76h-5" stroke="#000" stroke-width="1" fill="none"/>
<rect x="43.5" y="7" width="208" height="338.25" fill="none" stroke="#000" stroke-width="1"/>
<path d="M288 345.25v-10M288 7v10M297.11 345.25v-5M297.11 7v5M306.21 345.25v-5M306.21 7v5M315.31 345.25v-5M315.31 7v5M324.42 345.25v-5M324.42 7v5M333.52 345.25v-5M333.52 7v5M342.63 345.25v-5M342.63 7v5M351.74 345.25v-5M351.74 7v5M360.84 345.25v-5M360.84 7v5M369.94 345.25v-5M369.94 7v5M379.05 345.25v-10M379.05 7v10M388.15 345.25v-5M388.15 7v5M397.26 345.25v-5M397.26 7v5M406.37 345.25v-5M406.37 7v5M415.47 345.25v-5M415.47 7v5M424.57 345.25v-5M424.57 7v5M433.68 345.25v-5M433.68 7v5M442.79 345.25v-5M442.79 7v5M451.89 345.25v-5M451.89 7v5M461 345.25v-5M461 7v5M470.1 345.25v-10M470.1 7v10M479.2 345.25v-5M479.2 7v5M488.31 345.25v-5M488.31 7v5M497.42 345.25v-5M497.42 7v5M506.52 345.25v-5M506.52 7v5M515.62 345.25v-5M515.62 7v5M524.73 345.25v-5M524.73 7v5M533.84 345.25v-5M533.84 7v5M542.94 345.25v-5M542.94 7v5M552.04 345.25v-5M552.04 7v5M561.15 345.25v-10M561.15 7v10M570.25 345.25v-5M570.25 7v5M579.36 345.25v-5M579.36 7v5M588.47 345.25v-5M588.47 7v5M597.57 345.25v-5M597.57 7v5M606.68 345.25v-5M606.68 7v5M615.78 345.25v-5M615.78 7v5M624.88 345.25v-5M624.88 7v5M633.99 345.25v-5M633.99 7v5M643.1 345.25v-5M643.1 7v5M652.2 345.25v-10M652.2 7v10M288 331.72h5M652.2 331.72h-5M288 304.66h5M652.2 304.66h-5M288 277.6h10M652.2 277.6h-10M288 250.54h5M652.2 250.54h-5M288 223.48h5M652.2 223.48h-5M288 196.42h5M652.2 196.42h-5M288 169.36h5M652.2 169.36h-5M288 142.3h10M652.2 142.3h-10M288 115.24h5M652.2 115.24h-5M288 88.18h5M652.2 88.18h-5M288 61.12h5M652.2 61.12h-5M288 34.06h5M652.2 34.06h-5M288 7h10M652.2 7h-10" stroke="#000" stroke-width="1" fill="none"/>
<rect x="288" y="7" width="364.2" height="338.25" fill="none" stroke="#000" stroke-width="1"/>
<g font-family="Liberation Serif, serif" font-size="17.8" fill="#000">
<text x="38.6" y="317.32" text-anchor="end">-20</text>
<text x="38.6" y="249.68" text-anchor="end">-10</text>
<text x="38.6" y="182.03" text-anchor="end">0</text>
<text x="38.6" y="114.38" text-anchor="end">10</text>
<text x="38.6" y="46.72" text-anchor="end">20</text>
<text x="43.5" y="362.8" text-anchor="middle">0</text>
<text x="108.5" y="362.8" text-anchor="middle">0.05</text>
<text x="173.5" y="362.8" text-anchor="middle">0.1</text>
<text x="238.5" y="362.8" text-anchor="middle">0.15</text>
<text x="283.5" y="283.5" text-anchor="end">0</text>
<text x="283.5" y="148.2" text-anchor="end">50</text>
<text x="283.5" y="12.9" text-anchor="end">100</text>
<text x="288" y="362.8" text-anchor="middle">0</text>
<text x="379.05" y="362.8" text-anchor="middle">0.1</text>
<text x="470.1" y="362.8" text-anchor="middle">0.2</text>
<text x="561.15" y="362.8" text-anchor="middle">0.3</text>
<text x="652.2" y="362.8" text-anchor="middle">0.4</text>
</g>
<g font-family="Liberation Serif, serif" font-size="20" fill="#000"><text x="112.7" y="390.9" font-size="22.8">ρ</text><text x="134.5" y="391">[ fm</text><text x="166.6" y="378.5" font-size="13.8">-3</text><text x="182.8" y="391">]</text></g>
<g font-family="Liberation Serif, serif" font-size="20" fill="#000"><text x="435.1" y="390.9" font-size="22.8">ρ</text><text x="456.9" y="391">[ fm</text><text x="489" y="378.5" font-size="13.8">-3</text><text x="505.2" y="391">]</text></g>
<g font-family="Liberation Serif, serif" font-size="20" fill="#000" transform="translate(14.8 225.2) rotate(-90)"><text x="0" y="0" font-size="19.7">E</text><text x="10.0" y="9.1" font-size="14.1">bind</text><text x="45.8" y="-0.5">[MeV]</text></g>
<g font-family="Liberation Sans, sans-serif" font-size="18.9" fill="#000"><text x="59" y="40.5">neutron matter</text><text x="64.3" y="326.5">nuclear matter</text></g>
<rect x="303.5" y="33" width="149" height="116.8" fill="#fff" stroke="#000" stroke-width="1"/>
<path d="M312.5 45.2H333.3" stroke="#ff0000" stroke-width="2.5"/>
<rect x="309.1" y="41.8" width="6.8" height="6.8" fill="#ff0000"/>
<rect x="329.9" y="41.8" width="6.8" height="6.8" fill="#ff0000"/>
<path d="M312.5 65.6H333.3" stroke="#ff0000" stroke-width="1.9" stroke-dasharray="1.7 4.52" stroke-dashoffset="0"/>
<path d="M309.1 65.8L312.5 62.4L315.9 65.8L312.5 69.2z" fill="#fff" stroke="#ff0000" stroke-width="1.1"/>
<path d="M329.9 65.8L333.3 62.4L336.7 65.8L333.3 69.2z" fill="#fff" stroke="#ff0000" stroke-width="1.1"/>
<path d="M312.5 87.6H333.3" stroke="#ff0000" stroke-width="1.75" stroke-dasharray="7.77 4.66"/>
<circle cx="312.5" cy="87.6" r="3.4" fill="#fff" stroke="#ff0000" stroke-width="1.1"/>
<circle cx="333.3" cy="87.6" r="3.4" fill="#fff" stroke="#ff0000" stroke-width="1.1"/>
<path d="M311.9 106.7H333.3" stroke="#0000ff" stroke-width="1.85" stroke-dasharray="1.6 4.62 7.77 4.66 1.6 4.62"/>
<path d="M312.1 123.2H333.3" stroke="#0000ff" stroke-width="1.85" stroke-dasharray="7.77 4.66"/>
<path d="M312.1 138.9H333.3" stroke="#000000" stroke-width="2.3" stroke-dasharray="9.7 5.8"/>
<g font-family="Liberation Sans, sans-serif" font-size="14.5" fill="#000">
<text x="344.3" y="48.4">DBHF (BonnA)</text>
<text x="344.3" y="67.8">BHF AV</text><text x="396.4" y="73.3" font-size="10.4">18</text><text x="407.9" y="67.8">+3-BF</text>
<text x="344.3" y="89.4">var AV</text><text x="387.3" y="95.5" font-size="10.4">18</text><text x="398.8" y="89.4">+3-BF</text>
<text x="344.3" y="111.2">NL3</text>
<text x="344.3" y="127.6">DD-TW</text>
<text x="344.3" y="144.1">ChPT</text>
</g>
</svg>
</body></html>
